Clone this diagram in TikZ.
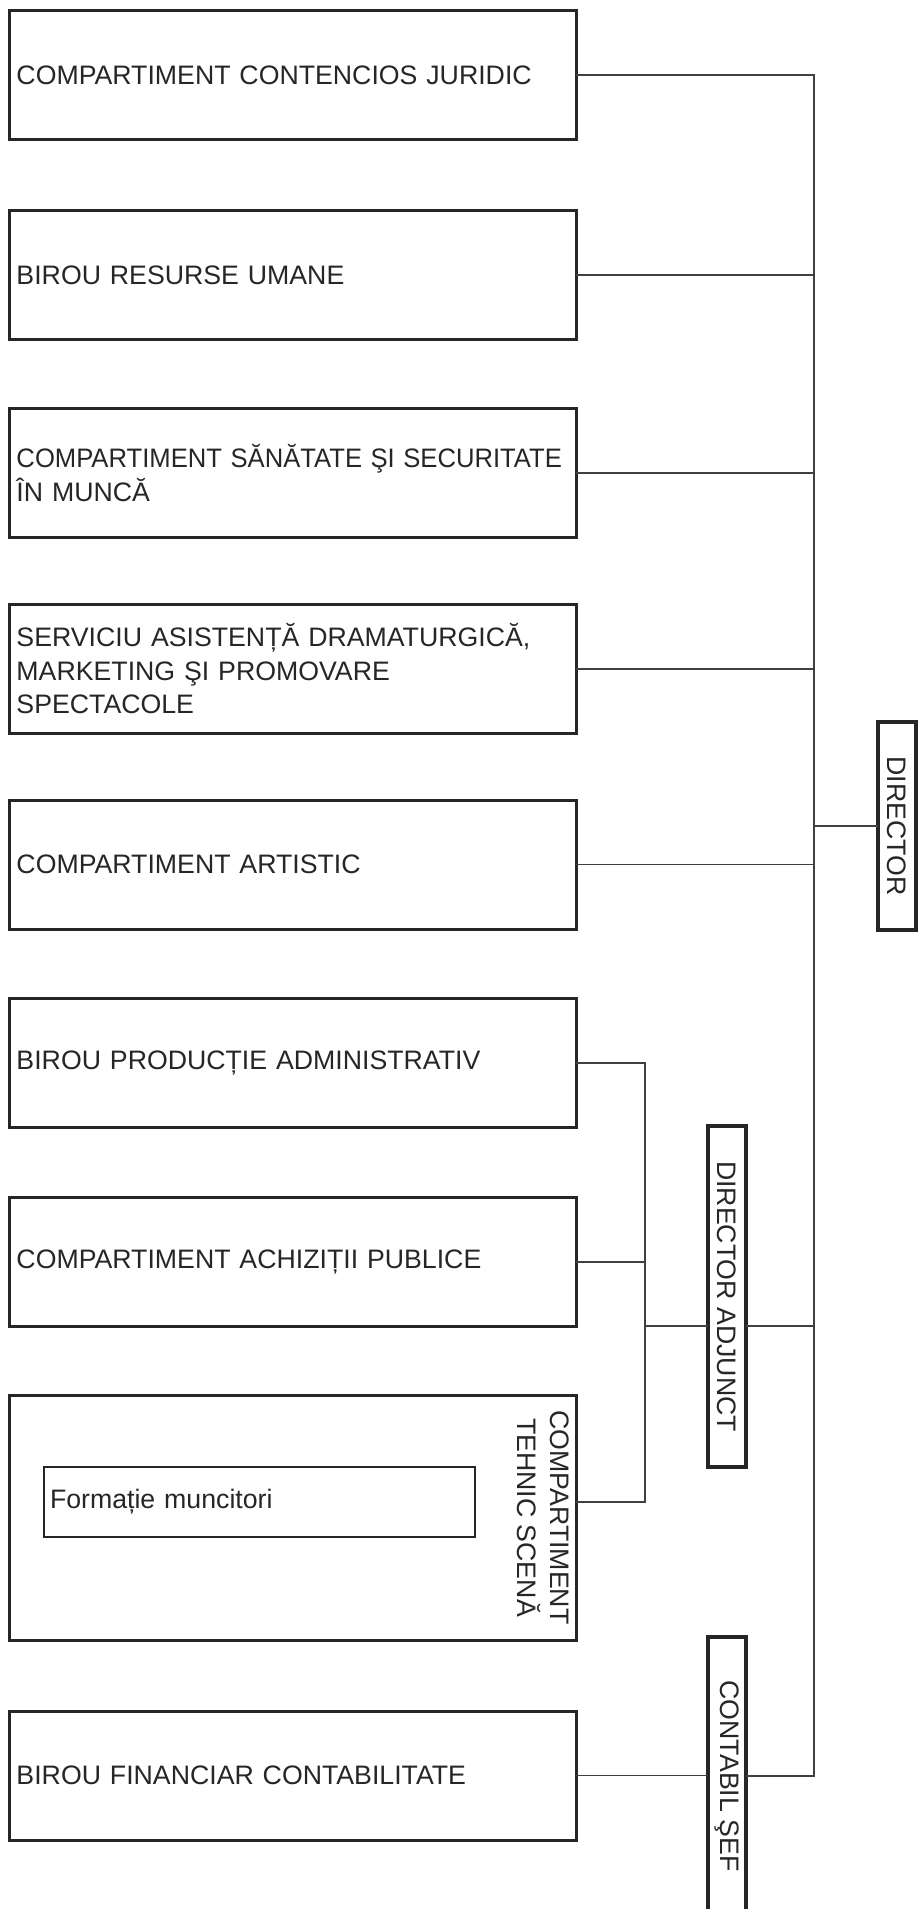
\documentclass[tikz,border=0pt]{standalone}
\usepackage{fontspec}
\setmainfont{Liberation Sans}
\usepackage{graphicx}

\begin{document}
\begin{tikzpicture}[x=0.5pt, y=-0.5pt,
    every node/.style={font=\fontsize{13.35pt}{16.75pt}\selectfont, text=black!85},
    dept/.style={draw=black!85, line width=1.5pt, anchor=west, outer sep=0pt,
        minimum width=283.5pt, minimum height=64.5pt,
        text width=276pt, inner xsep=3.75pt, align=left},
    head/.style={draw=black!85, line width=1.6pt, outer sep=0pt,
        minimum width=19pt, inner sep=0pt},
    link/.style={draw=black!75, line width=0.65pt}
    ]

    \useasboundingbox (0,0) rectangle (919,1909);

    % compartimente
    \node[dept] (juridic) at (9,75) {COMPARTIMENT CONTENCIOS JURIDIC};

    \node[dept] (resurse) at (9,275) {BIROU RESURSE UMANE};

    \node[dept] (sanatate) at (9,473) {\scalebox{0.96}[1]{COMPARTIMENT SĂNĂTATE ŞI SECURITATE}\\ÎN MUNCĂ};

    \node[dept] (marketing) at (9,669) {SERVICIU ASISTENȚĂ DRAMATURGICĂ,\\MARKETING ŞI PROMOVARE\\SPECTACOLE};

    \node[dept] (artistic) at (9,864.5) {COMPARTIMENT ARTISTIC};

    \node[dept] (productie) at (9,1063) {BIROU PRODUCȚIE ADMINISTRATIV};

    \node[dept] (achizitii) at (9,1262) {COMPARTIMENT ACHIZIȚII PUBLICE};

    \node[dept, minimum height=122.5pt] (tehnic) at (9,1517.5) {};

    \node[draw=black!85, line width=1pt, anchor=west, outer sep=0pt,
        minimum width=215.5pt, minimum height=35pt,
        text width=209.5pt, inner xsep=3pt, align=left
        ] (muncitori) at (44,1502) {Formație muncitori};

    \node[rotate=-90, anchor=north, align=center, inner sep=3pt
        ] (tehnictitlu) at (tehnic.east) {COMPARTIMENT\\TEHNIC SCENĂ};

    \node[dept] (financiar) at (9,1775.5) {BIROU FINANCIAR CONTABILITATE};

    % conducere
    \node[head, minimum height=104pt] (director) at (897,826) {\rotatebox{-90}{DIRECTOR}};

    \node[head, minimum height=170.5pt] (adjunct) at (727,1296.5) {\rotatebox{-90}{DIRECTOR ADJUNCT}};

    \node[head, minimum height=139pt] (contabil) at (727,1776) {\rotatebox{-90}{CONTABIL ŞEF}};

    \coordinate (mainbus) at (814,0);
    \coordinate (subbus) at (645,0);
    \coordinate (adjlink) at (727,1326);

    % legaturi
    \draw[link] (juridic.east) -| (mainbus |- contabil.east) -- (contabil.east);
    \foreach \n in {resurse,sanatate,marketing,artistic}
        \draw[link] (\n.east) -- (\n.east -| mainbus);
    \draw[link] (director.west) -- (director.west -| mainbus);

    \draw[link] (productie.east) -| (subbus |- muncitori.center) -- (tehnic.east |- muncitori.center);
    \draw[link] (achizitii.east) -- (achizitii.east -| subbus);
    \draw[link] (subbus |- adjlink) -- (adjunct.west |- adjlink);
    \draw[link] (adjunct.east |- adjlink) -- (mainbus |- adjlink);

    \draw[link] (financiar.east) -- (financiar.east -| contabil.west);

\end{tikzpicture}
\end{document}
